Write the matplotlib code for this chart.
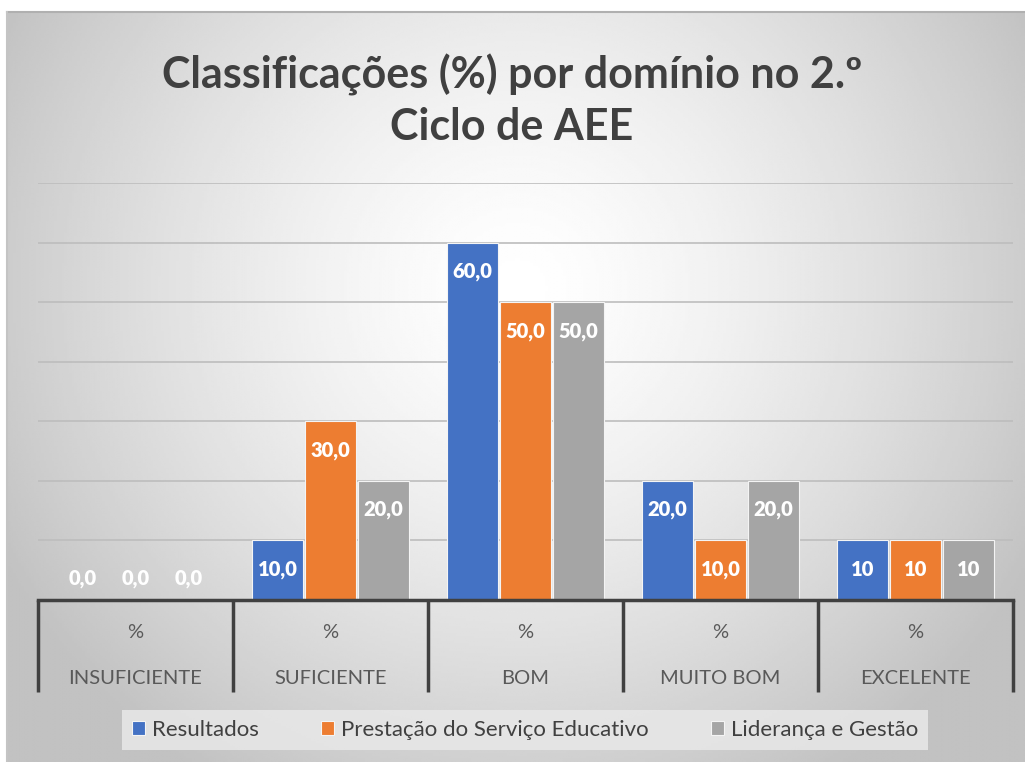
import numpy as np
import matplotlib
matplotlib.use("Agg")
import matplotlib.pyplot as plt
from matplotlib.lines import Line2D

plt.rcParams['font.family'] = ['Lato', 'DejaVu Sans']

# dados
categorias = ["INSUFICIENTE", "SUFICIENTE", "BOM", "MUITO BOM", "EXCELENTE"]
series = ["Resultados", "Prestação do Serviço Educativo", "Liderança e Gestão"]
resultados = [0.0, 10.0, 60.0, 20.0, 10.0]
prestacao = [0.0, 30.0, 50.0, 10.0, 10.0]
lideranca = [0.0, 20.0, 50.0, 20.0, 10.0]
# rótulos tal como aparecem (o último grupo sem casa decimal)
rotulos_resultados = ["0,0", "10,0", "60,0", "20,0", "10"]
rotulos_prestacao = ["0,0", "30,0", "50,0", "10,0", "10"]
rotulos_lideranca = ["0,0", "20,0", "50,0", "20,0", "10"]

cores = ["#4472C4", "#ED7D31", "#A5A5A5"]
W, H = 1025, 762

fig = plt.figure(figsize=(W / 100, H / 100), dpi=100)
fig.patch.set_facecolor("white")

# fundo com gradiente radial
bg = fig.add_axes([7 / W, 0, 1 - 7 / W, 1 - 12 / H])
yy, xx = np.mgrid[0:300, 0:400]
r = np.sqrt(((xx - 200) / 230.0) ** 2 + ((yy - 110) / 230.0) ** 2)
val = np.clip(1.0 - 0.24 * r ** 1.4, 0.76, 1.0)
bg.imshow(val, cmap="gray", vmin=0, vmax=1, aspect="auto", interpolation="bilinear")
bg.set_axis_off()
fig.add_artist(Line2D([7 / W, 1], [1 - 12 / H, 1 - 12 / H], color="#b0b0b0", lw=1.5))
fig.add_artist(Line2D([7 / W, 7 / W], [0, 1 - 12 / H], color="#c4c4c4", lw=1.5))

# área do gráfico
x0, x1, yb, yt = 38, 1013, 600, 183
ax = fig.add_axes([x0 / W, 1 - yb / H, (x1 - x0) / W, (yb - yt) / H])
ax.set_facecolor("none")
ax.set_xlim(-0.5, 4.5)
ax.set_ylim(0, 70)

x = np.arange(len(categorias))
off = 0.272
wid = 0.266
dados = [resultados, prestacao, lideranca]
rotulos = [rotulos_resultados, rotulos_prestacao, rotulos_lideranca]
for i, (vals, labs) in enumerate(zip(dados, rotulos)):
    pos = x + (i - 1) * off
    ax.bar(pos, vals, width=wid, color=cores[i], edgecolor="#f4f4f4",
           linewidth=0.8, label=series[i], zorder=3)
    for px, v, lab in zip(pos, vals, labs):
        dy = -29 if v > 0 else 22
        ax.annotate(lab, (px, v), xytext=(0, dy), textcoords="offset pixels",
                    ha="center", va="center", color="white", fontsize=14.5,
                    fontweight="heavy", zorder=4)

ax.set_yticks(np.arange(10, 71, 10))
ax.yaxis.grid(True, color="#bdbdbd", lw=1.2)
ax.set_axisbelow(True)
ax.tick_params(left=False, labelleft=False, bottom=False, labelbottom=False)
for s in ["left", "right", "top"]:
    ax.spines[s].set_visible(False)
ax.spines["bottom"].set_color("#404040")
ax.spines["bottom"].set_linewidth(2.5)
ax.spines["bottom"].set_zorder(5)

# eixo de categorias com dois níveis
trans = ax.get_xaxis_transform()
fundo = (yb - 692) / (yb - yt)
for b in np.arange(-0.5, len(categorias), 1.0):
    ax.plot([b, b], [0, fundo], transform=trans, color="#404040", lw=2.5,
            clip_on=False, solid_capstyle="butt", zorder=5)
for xi, cat in zip(x, categorias):
    ax.text(xi, (yb - 633) / (yb - yt), "%", transform=trans, ha="center",
            va="center", fontsize=14.5, color="#595959")
    ax.text(xi, (yb - 678) / (yb - yt), cat, transform=trans, ha="center",
            va="center", fontsize=14.5, color="#595959")

# título
fig.text(512 / W, 1 - 75 / H, "Classificações (%) por domínio no 2.º", ha="center",
         va="center", fontsize=31, fontweight="bold", color="#404040")
fig.text(512 / W, 1 - 127 / H, "Ciclo de AEE", ha="center", va="center",
         fontsize=31, fontweight="bold", color="#404040")

# legenda
leg = fig.legend(loc="center", bbox_to_anchor=(525 / W, 1 - 730 / H), ncol=3,
                 frameon=True, fontsize=16, handlelength=0.6, handleheight=0.6,
                 handletextpad=0.3, columnspacing=2.8, borderpad=0.45, fancybox=False)
leg.get_frame().set_facecolor("#e8e8e8")
leg.get_frame().set_edgecolor("none")
leg.get_frame().set_alpha(0.85)
for t in leg.get_texts():
    t.set_color("#404040")

fig.savefig("out.png", dpi=100)
